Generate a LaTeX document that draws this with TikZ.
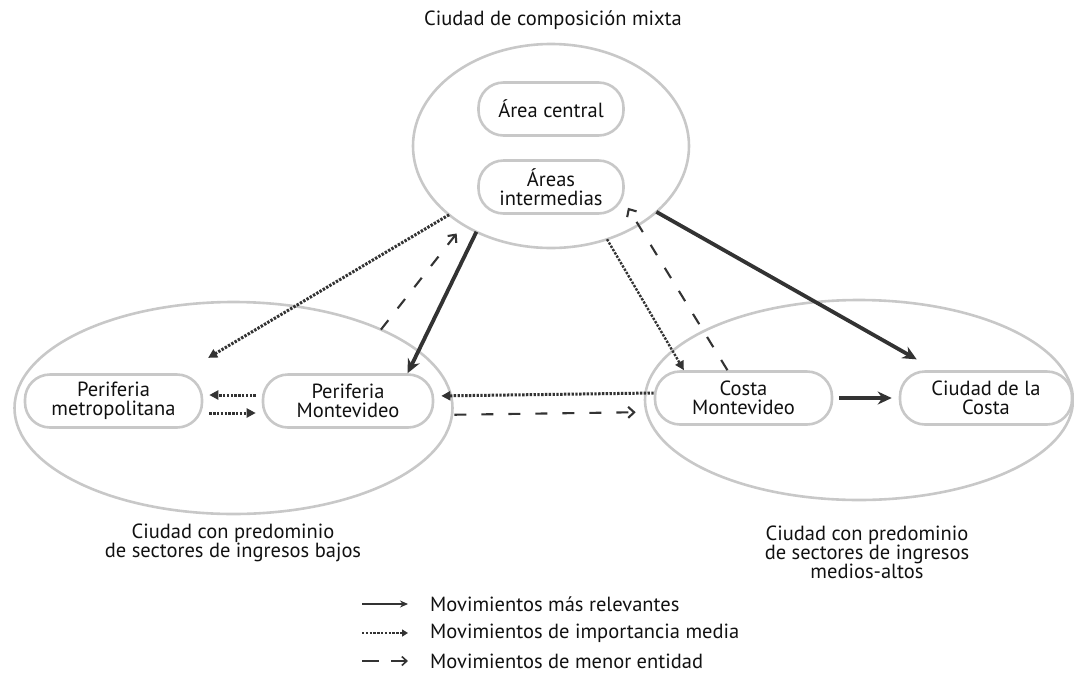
\documentclass[tikz,border=0pt]{standalone}
\usepackage{fontspec}
\setmainfont{PT Sans}
\usetikzlibrary{shapes.geometric,arrows.meta}

\definecolor{gris}{HTML}{C8C8C8}
\definecolor{flecha}{HTML}{333333}
\definecolor{texto}{HTML}{111111}

\begin{document}
\begin{tikzpicture}[
        x=1pt, y=-1pt,
        every node/.style={
            text=texto,
            font=\fontsize{20.5}{19}\selectfont,
            align=center,
            inner sep=0pt
        },
        zona/.style={ellipse, draw=gris, line width=2.6pt, outer sep=0pt},
        caja/.style={rectangle, rounded corners=25pt, draw=gris, line width=2.6pt,
            fill=white, minimum height=53pt},
        fuerte/.style={draw=flecha, line width=3.8pt, -{Stealth[length=14pt,width=13pt]}},
        media/.style={draw=flecha, line width=3pt, dash pattern=on 2.4pt off 1.4pt,
            -{Triangle[length=9pt,width=9pt]}},
        menor/.style={draw=flecha, line width=2.1pt, dash pattern=on 12pt off 15pt,
            -{Straight Barb[length=6pt,width=11pt]}}
    ]

    \useasboundingbox (0,0) rectangle (1074,673);

    % Zonas
    \node[zona, minimum width=276pt, minimum height=204pt] (mixta) at (551,146)   {};
    \node[zona, minimum width=438pt, minimum height=212pt] (bajos) at (233.5,408) {};
    \node[zona, minimum width=428pt, minimum height=200pt] (altos) at (859,400)   {};

    % Cajas
    \node[caja, minimum width=145pt] (central) at (551,109)   {Área central};
    \node[caja, minimum width=145pt] (inter)   at (551,187)   {Áreas\\intermedias};
    \node[caja, minimum width=177pt] (pmet)    at (113.5,401) {Periferia\\metropolitana};
    \node[caja, minimum width=170pt] (pmv)     at (348,401)   {Periferia\\Montevideo};
    \node[caja, minimum width=177pt] (cmv)     at (743.5,398) {Costa\\Montevideo};
    \node[caja, minimum width=172pt] (cdc)     at (986,398)   {Ciudad de la\\Costa};

    % Rótulos
    \node (tmixta) at (553,20)  {Ciudad de composición mixta};
    \node (tbajos) at (233,543) {Ciudad con predominio\\de sectores de ingresos bajos};
    \node (taltos) at (867,552) {Ciudad con predominio\\de sectores de ingresos\\medios-altos};

    % Movimientos
    \draw[media, shorten >=30pt] (mixta.214.6) -- (pmet.22.6);
    \draw[fuerte]                (mixta.229.5) -- (pmv.25);
    \draw[menor, shorten >=11pt] (bajos.28.5)  -- (mixta.222);
    \draw[media, line width=2.4pt] (mixta.301.3) -- (cmv.155.6);
    \draw[menor, shorten >=6pt]  (cmv.120)     -- (inter.348.7);
    \draw[fuerte, shorten >=22pt] (mixta.328.8) -- (cdc.151.6);
    \draw[fuerte, shorten <=6pt, shorten >=7pt] (cmv.east) -- (cdc.west);
    \draw[media, shorten >=7pt] ([yshift=5pt]cmv.west) -- ([yshift=5pt]pmv.east);
    \draw[menor, shorten <=20pt, shorten >=18pt] ([yshift=-14pt]pmv.east) -- ([yshift=-14pt]cmv.west);
    \draw[media, shorten <=6pt, shorten >=6pt] ([yshift=6pt]pmv.west) -- ([yshift=6pt]pmet.east);
    \draw[media, shorten <=6pt, shorten >=6pt] ([yshift=-12pt]pmet.east) -- ([yshift=-12pt]pmv.west);

    % Leyenda
    \node[anchor=west] (l1) at (430,604) {Movimientos más relevantes};
    \node[anchor=west] (l2) at (430,633) {Movimientos de importancia media};
    \node[anchor=west] (l3) at (430,661) {Movimientos de menor entidad};
    \draw[fuerte, line width=2.4pt, -{Stealth[length=8pt,width=7pt]}]
        ([xshift=-68pt]l1.west) -- ([xshift=-22pt]l1.west);
    \draw[media, line width=2.4pt, -{Triangle[length=6pt,width=7pt]}]
        ([xshift=-68pt]l2.west) -- ([xshift=-22pt]l2.west);
    \draw[menor, line width=1.6pt, dash pattern=on 17pt off 12pt, -{Straight Barb[length=5pt,width=9pt]}]
        ([xshift=-68pt]l3.west) -- ([xshift=-22pt]l3.west);

\end{tikzpicture}
\end{document}
